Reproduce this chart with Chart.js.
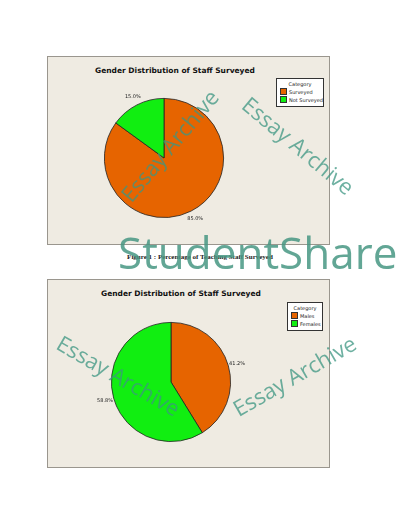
<!DOCTYPE html>
<html>
<head>
<meta charset="utf-8">
<script src="https://cdn.jsdelivr.net/npm/chart.js@4"></script>
<style>
  body { margin: 0; background: #fff; width: 400px; height: 517px; position: relative; overflow: hidden; font-family: "DejaVu Sans", sans-serif; }
  .box { position: absolute; left: 47px; width: 281px; height: 187px; background: #efebe2; border: 1px solid #9a968e; }
  .ttl { position: absolute; font-size: 7.5px; font-weight: bold; color: #111; }
  .leg { position: absolute; background: #fff; border: 1px solid #333; font-size: 5px; padding: 2px 3px; line-height: 7px; color: #222; white-space: nowrap; }
  .leg i { display: inline-block; width: 5px; height: 5px; border: 0.5px solid #333; margin-right: 2px; vertical-align: -1px; }
  canvas { position: absolute; }
  .cap { position: absolute; top: 253px; left: 0; width: 400px; text-align: center; font: bold 7px "Liberation Serif", serif; color: #222; }
  .wm { position: absolute; color: rgba(60,150,130,0.75); font-family: "Open Sans", sans-serif; white-space: nowrap; }
</style>
</head>
<body>
<div class="box" style="top:56px"></div>
<div class="box" style="top:279px"></div>
<div class="ttl" style="left:95px;top:66px">Gender Distribution of Staff Surveyed</div>
<div class="ttl" style="left:101px;top:289px">Gender Distribution of Staff Surveyed</div>
<div class="leg" style="left:276px;top:78px;width:40px"><div style="text-align:center">Category</div><div><i style="background:#e66400"></i>Surveyed</div><div><i style="background:#11ee11"></i>Not Surveyed</div></div>
<div class="leg" style="left:287px;top:302px;width:28px"><div style="text-align:center">Category</div><div><i style="background:#e66400"></i>Males</div><div><i style="background:#11ee11"></i>Females</div></div>
<canvas id="c1" width="200" height="180" style="left:64px;top:68px;width:200px;height:180px"></canvas>
<canvas id="c2" width="200" height="180" style="left:71px;top:292px;width:200px;height:180px"></canvas>
<div class="cap">Figure 1 : Percentage of Teaching Staff Surveyed</div>
<div class="wm" style="left:118px;top:222px;font-size:44px;color:rgba(70,150,130,0.85)">StudentShare</div>
<div class="wm" style="left:100px;top:130px;font-size:22px;transform:rotate(-50deg)">Essay Archive</div>
<div class="wm" style="left:230px;top:130px;font-size:22px;transform:rotate(40deg)">Essay Archive</div>
<div class="wm" style="left:50px;top:360px;font-size:22px;transform:rotate(30deg)">Essay Archive</div>
<div class="wm" style="left:225px;top:360px;font-size:22px;transform:rotate(-30deg)">Essay Archive</div>
<script>
var topLabels = ['Surveyed', 'Not Surveyed'];
var topValues = [85.0, 15.0];
var bottomLabels = ['Males', 'Females'];
var bottomValues = [41.2, 58.8];
var sliceColors = ['#e66400', '#11ee11'];

var outsideLabels = {
    id: 'outsideLabels',
    afterDatasetsDraw: function (chart) {
        var ctx = chart.ctx;
        var meta = chart.getDatasetMeta(0);
        ctx.save();
        ctx.font = '5px "DejaVu Sans"';
        ctx.fillStyle = '#222';
        ctx.textAlign = 'center';
        ctx.textBaseline = 'middle';
        meta.data.forEach(function (arc, i) {
            var mid = (arc.startAngle + arc.endAngle) / 2;
            var r = arc.outerRadius + 9;
            ctx.fillText(chart.data.datasets[0].data[i].toFixed(1) + '%', arc.x + Math.cos(mid) * r, arc.y + Math.sin(mid) * r);
        });
        ctx.restore();
    }
};

var makePie = function (id, labels, values) {
    new Chart(document.getElementById(id), {
        type: 'pie',
        data: {
            labels: labels,
            datasets: [{
                data: values,
                backgroundColor: sliceColors,
                borderColor: '#222',
                borderWidth: 0.8
            }]
        },
        options: {
            responsive: false,
            animation: false,
            layout: { padding: 30 },
            plugins: { legend: { display: false }, tooltip: { enabled: false } }
        },
        plugins: [outsideLabels]
    });
};

makePie('c1', topLabels, topValues);
makePie('c2', bottomLabels, bottomValues);
</script>
</body>
</html>
